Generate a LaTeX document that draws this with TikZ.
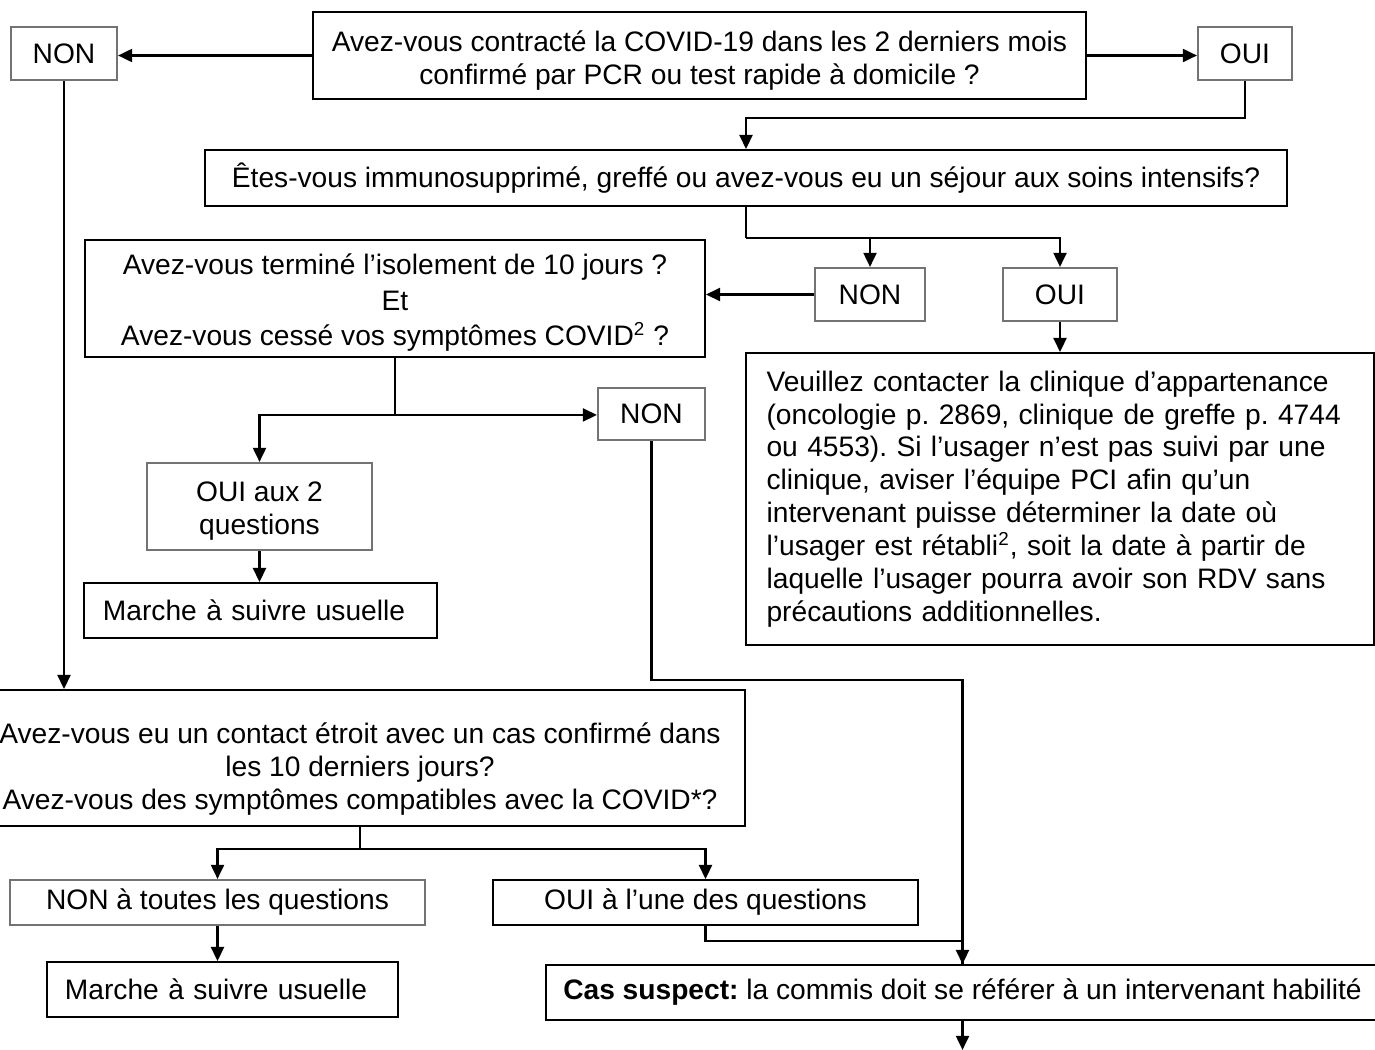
\documentclass[tikz,border=0pt]{standalone}
\usepackage{fontspec}
\setmainfont{Liberation Sans}
\usetikzlibrary{arrows.meta}
\frenchspacing
\newcommand\topgap[1]{\rule{0pt}{#1}}
\tikzset{
    box/.style={draw, line width=0.8pt, align=center},
    gbox/.style={draw=black!55, line width=0.9pt, align=center},
    sz/.style 2 args={minimum width=#1*0.426pt, minimum height=#2*0.426pt},
    arr/.style={line width=1pt, -{Triangle[length=6pt,width=5.5pt]}},
    ln/.style={line width=1pt}
}

\begin{document}
\begin{tikzpicture}[x=0.426pt,y=-0.426pt,
    every node/.style={font=\fontsize{12}{14}\selectfont, inner sep=0pt}]
    \useasboundingbox (0,0) rectangle (1375,1049);
    % boxes
    \node[box, sz={773}{87}] (q1) at (699.5,55.5)
        {\topgap{12.8pt}Avez-vous contracté la COVID-19 dans les 2 derniers mois\\confirmé par PCR ou test rapide à domicile ?};
    \node[gbox, sz={106}{53}] (non1) at (64,53.5) {NON};
    \node[gbox, sz={94}{53}] (oui1) at (1245,53.5) {OUI};
    \node[box, sz={1082}{56}] (q2) at (746,178)
        {Êtes-vous immunosupprimé, greffé ou avez-vous eu un séjour aux soins intensifs?};
    \node[gbox, sz={110}{53}] (non2) at (870,294.5) {NON};
    \node[gbox, sz={114}{53}] (oui2) at (1060,294.5) {OUI};
    \node[box, sz={620}{117}, font=\fontsize{12}{15}\selectfont] (q3) at (395,298.5)
        {\topgap{12.4pt}Avez-vous terminé l’isolement de 10 jours ?\\Et\\Avez-vous cessé vos symptômes COVID\textsuperscript{2} ?};
    \node[gbox, sz={107}{52}] (non3) at (651.5,414) {NON};
    \node[gbox, sz={225}{87}] (oui3) at (259.5,506.5) {\topgap{12pt}OUI aux 2\\questions};
    \node[box, sz={353}{55}, align=left, text width=134.2pt] (std1) at (260.5,610.5) {Marche à suivre usuelle};
    \node[box, sz={628}{292}, align=left, text width=250pt] (info) at (1060,499)
        {Veuillez contacter la clinique d’appartenance\\
         (oncologie p. 2869, clinique de greffe p. 4744\\
         ou 4553). Si l’usager n’est pas suivi par une\\
         clinique, aviser l’équipe PCI afin qu’un\\
         intervenant puisse déterminer la date où\\
         l’usager est rétabli\textsuperscript{2}, soit la date à partir de\\
         laquelle l’usager pourra avoir son RDV sans\\
         précautions additionnelles.};
    \node[box, sz={770}{136}] (q4) at (360,758)
        {\topgap{18.4pt}Avez-vous eu un contact étroit avec un cas confirmé dans\\les 10 derniers jours?\\Avez-vous des symptômes compatibles avec la COVID*?};
    \node[gbox, sz={415}{45}] (no4) at (217.5,902.5) {NON à toutes les questions};
    \node[box, sz={425}{45}] (yes4) at (705.5,902.5) {OUI à l’une des questions};
    \node[box, sz={351}{55}, align=left, text width=134.2pt] (std2) at (222.5,989.5) {Marche à suivre usuelle};
    \node[box, sz={833}{55}] (cas) at (962.5,992.5)
        {\textbf{Cas suspect:} la commis doit se référer à un intervenant habilité};
    % connectors
    \draw[arr] (q1.west) -- (q1.west -| non1.east);
    \draw[arr] (q1.east) -- (q1.east -| oui1.west);
    \draw[arr] (oui1.south) -- ++(0,37) -| (q2.north);
    \draw[ln] (q2.south) -- ++(0,31) coordinate (b1);
    \draw[arr] (b1) -| (non2.north);
    \draw[arr] (b1) -| (oui2.north);
    \draw[arr] (non2.west) -- (non2.west -| q3.east);
    \draw[arr] (oui2.south) -- (oui2.south |- info.north);
    \draw[ln] (q3.south) -- ++(0,57) coordinate (b2);
    \draw[arr] (b2) -| (oui3.north);
    \draw[arr] (b2) -- (b2 -| non3.west);
    \draw[arr] (oui3.south) -- (oui3.south |- std1.north);
    \draw[arr] (non3.south) -- ++(0,239) -| (cas.north);
    \draw[arr] (non1.south) -- (non1.south |- q4.north);
    \draw[ln] (q4.south) -- ++(0,22) coordinate (b3);
    \draw[arr] (b3) -| (no4.north);
    \draw[arr] (b3) -| (yes4.north);
    \draw[arr] (no4.south) -- (no4.south |- std2.north);
    \draw[ln] (yes4.south) -- ++(0,15) -| (cas.north);
    \draw[arr] (cas.south) -- ++(0,29);
\end{tikzpicture}
\end{document}
